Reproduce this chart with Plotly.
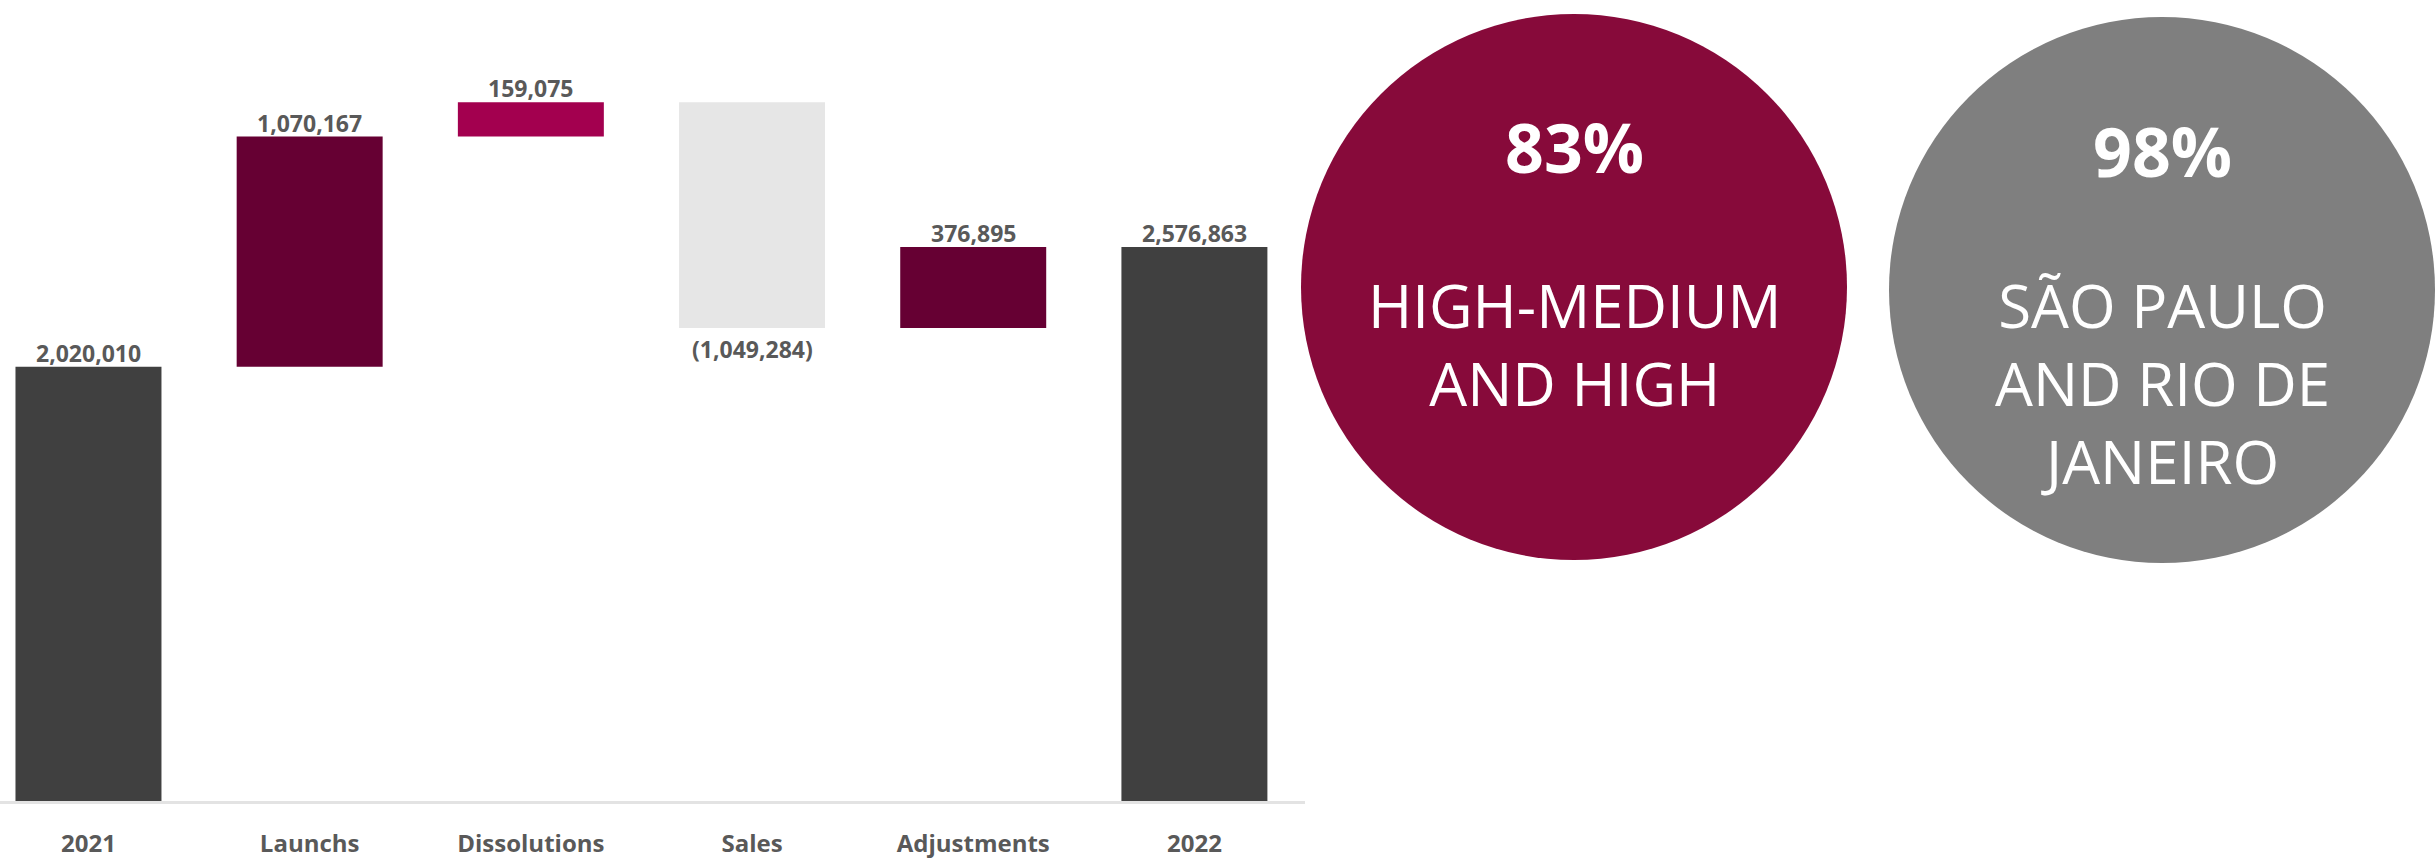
import plotly.graph_objects as go

# ---- Waterfall data: housing stock movement 2021 -> 2022 ----
categories = ["2021", "Launchs", "Dissolutions", "Sales", "Adjustments", "2022"]
values = [2020010, 1070167, 159075, -1049284, 376895, 2576863]
measures = ["absolute", "relative", "relative", "relative", "relative", "total"]
bar_colors = ["#404040", "#660033", "#A3004F", "#E6E6E6", "#660033", "#404040"]

# ---- KPI badges ----
kpi_values = [83, 98]
kpi_labels = ["HIGH-MEDIUM<br>AND HIGH", "SÃO PAULO<br>AND RIO DE<br>JANEIRO"]
kpi_colors = ["#870A3A", "#7F7F7F"]

W, H = 2435, 861
MARGIN_B = 60
PLOT_H = H - MARGIN_B

LABEL_GREY = "#595959"
FONT = "Open Sans"


def fmt(v):
    return f"({abs(v):,})" if v < 0 else f"{v:,}"


# floating-bar bases from the running total
bases, heights = [], []
running = 0
for v, m in zip(values, measures):
    if m == "relative":
        bases.append(running)
        heights.append(v)
        running += v
    else:
        bases.append(0)
        heights.append(v)
        running = v

fig = go.Figure()
fig.add_trace(go.Bar(
    x=categories,
    y=heights,
    base=bases,
    marker=dict(color=bar_colors, line=dict(width=0)),
    width=0.66,
    cliponaxis=False,
    hoverinfo="skip",
))

annotations = []

# value labels: above rising/total bars, below falling bars
# (category positions given by index so "2021"/"2022" are not read as numbers)
for i, (v, b, h) in enumerate(zip(values, bases, heights)):
    rising = v >= 0
    annotations.append(dict(
        x=i, y=b + h, xref="x", yref="y", text=fmt(v),
        showarrow=False, xanchor="center",
        yanchor="bottom" if rising else "top",
        yshift=-4 if rising else -3,
        font=dict(family=FONT, size=23, color=LABEL_GREY, weight=700),
    ))


# pixel -> paper helpers for the badge layout
def px(x):
    return x / W


def py(y):
    return (PLOT_H - y) / PLOT_H


badges = [
    dict(cx=1574, cy=287, r=273, pct_y=146, txt_y=344),
    dict(cx=2162, cy=290, r=273, pct_y=150, txt_y=383),
]

shapes = []
for b, val, lab, col in zip(badges, kpi_values, kpi_labels, kpi_colors):
    shapes.append(dict(
        type="circle", xref="paper", yref="paper",
        x0=px(b["cx"] - b["r"]), x1=px(b["cx"] + b["r"]),
        y0=py(b["cy"] + b["r"]), y1=py(b["cy"] - b["r"]),
        fillcolor=col, line=dict(width=0), layer="below",
    ))
    annotations.append(dict(
        x=px(b["cx"]), y=py(b["pct_y"]), xref="paper", yref="paper",
        text=f"{val}%", showarrow=False, xanchor="center", yanchor="middle",
        font=dict(family=FONT, size=68, color="white", weight=700),
    ))
    annotations.append(dict(
        x=px(b["cx"]), y=py(b["txt_y"]), xref="paper", yref="paper",
        text=lab, showarrow=False, xanchor="center", yanchor="middle",
        align="center",
        font=dict(family=FONT, size=60, color="white", weight=400),
    ))

fig.update_layout(
    width=W, height=H,
    margin=dict(l=0, r=0, t=0, b=MARGIN_B),
    paper_bgcolor="white", plot_bgcolor="white",
    showlegend=False,
    shapes=shapes,
    annotations=annotations,
    xaxis=dict(
        type="category",
        domain=[0, 1305 / W],
        range=[-0.4, 5.5],
        showline=True, linecolor="#E3E3E3", linewidth=3,
        showgrid=False, zeroline=False, ticks="",
        tickfont=dict(family=FONT, size=24, color=LABEL_GREY, weight=700),
        ticklabelstandoff=19,
    ),
    yaxis=dict(
        range=[0, 3725000],
        visible=False, showgrid=False, zeroline=False,
    ),
)

fig.write_html("out.html")
